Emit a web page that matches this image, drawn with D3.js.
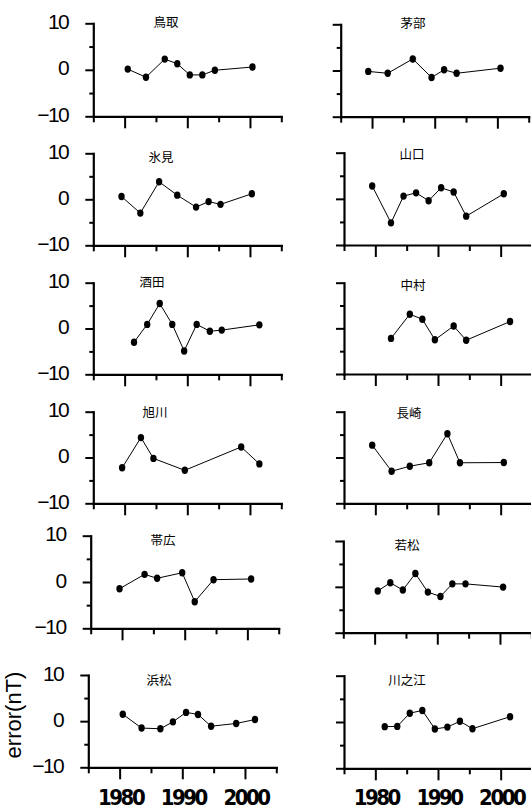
<!DOCTYPE html>
<html>
<head>
<meta charset="utf-8">
<script src="https://cdn.jsdelivr.net/npm/d3@7"></script>
<style>
    html, body { margin: 0; padding: 0; background: #fff; }
    svg { display: block; }
</style>
</head>
<body>
<svg id="chart" width="531" height="812"></svg>
<script>

// ##################################################
// #                                                #
// #  Data                                          #
// #                                                #
// ##################################################

const stations = ['鳥取', '茅部', '氷見', '山口', '酒田', '中村', '旭川', '長崎', '帯広', '若松', '浜松', '川之江'];

const tottoriYears = [1980.5, 1983.4, 1986.4, 1988.4, 1990.4, 1992.4, 1994.4, 2000.4];
const tottoriErr   = [0.15, -1.6, 2.3, 1.3, -1.1, -1.1, -0.1, 0.6];

const kayabeYears = [1979.4, 1982.5, 1986.5, 1989.5, 1991.5, 1993.5, 2000.5];
const kayabeErr   = [-0.2, -0.6, 2.5, -1.5, 0.15, -0.6, 0.5];

const himiYears = [1979.5, 1982.5, 1985.5, 1988.4, 1991.4, 1993.4, 1995.3, 2000.3];
const himiErr   = [0.6, -3.0, 3.8, 0.9, -1.7, -0.5, -1.1, 1.2];

const yamaguchiYears = [1979.5, 1982.5, 1984.5, 1986.5, 1988.5, 1990.5, 1992.5, 1994.5, 2000.5];
const yamaguchiErr   = [2.8, -5.2, 0.6, 1.3, -0.4, 2.4, 1.5, -3.75, 1.1];

const sakataYears = [1981.5, 1983.6, 1985.6, 1987.6, 1989.5, 1991.5, 1993.6, 1995.5, 2001.5];
const sakataErr   = [-3.0, 0.9, 5.45, 0.9, -4.9, 0.9, -0.6, -0.35, 0.8];

const nakamuraYears = [1982.5, 1985.5, 1987.5, 1989.5, 1992.5, 1994.5, 2001.5];
const nakamuraErr   = [-2.2, 3.1, 2.0, -2.5, 0.5, -2.6, 1.5];

const asahikawaYears = [1979.6, 1982.6, 1984.6, 1989.6, 1998.6, 2001.5];
const asahikawaErr   = [-2.25, 4.35, -0.2, -2.8, 2.3, -1.4];

const nagasakiYears = [1979.5, 1982.6, 1985.5, 1988.6, 1991.5, 1993.5, 2000.5];
const nagasakiErr   = [2.7, -3.0, -1.9, -1.15, 5.2, -1.15, -1.1];

const obihiroYears = [1979.6, 1983.6, 1985.6, 1989.6, 1991.6, 1994.6, 2000.6];
const obihiroErr   = [-1.45, 1.65, 0.8, 2.0, -4.25, 0.5, 0.65];

const wakamatsuYears = [1980.5, 1982.5, 1984.5, 1986.5, 1988.5, 1990.5, 1992.4, 1994.5, 2000.5];
const wakamatsuErr   = [-0.9, 0.9, -0.7, 2.9, -1.15, -2.1, 0.65, 0.65, -0.05];

const hamamatsuYears = [1980.5, 1983.5, 1986.5, 1988.5, 1990.6, 1992.5, 1994.6, 1998.6, 2001.6];
const hamamatsuErr   = [1.5, -1.5, -1.65, -0.15, 1.9, 1.45, -1.1, -0.5, 0.35];

const kawanoeYears = [1981.5, 1983.5, 1985.5, 1987.5, 1989.5, 1991.5, 1993.5, 1995.5, 2001.5];
const kawanoeErr   = [-1.0, -0.95, 1.9, 2.5, -1.5, -1.1, 0.15, -1.45, 1.15];

const yearsList = [tottoriYears, kayabeYears, himiYears, yamaguchiYears, sakataYears, nakamuraYears,
    asahikawaYears, nagasakiYears, obihiroYears, wakamatsuYears, hamamatsuYears, kawanoeYears];
const errList = [tottoriErr, kayabeErr, himiErr, yamaguchiErr, sakataErr, nakamuraErr,
    asahikawaErr, nagasakiErr, obihiroErr, wakamatsuErr, hamamatsuErr, kawanoeErr];

const yearDomain = [1975, 2005];
const errDomain = [-10, 10];
const xMajorTicks = [1980, 1990, 2000];
const xMinorTicks = [1975, 1985, 1995, 2005];
const yMajorTicks = [10, 0, -10];
const yMinorTicks = [5, -5];
const yTickLabels = ['10', '0', '\u221210'];
const xTickLabels = ['1980', '1990', '2000'];
const yTitle = 'error(nT)';

// ##################################################
// #                                                #
// #  Layout (pixel frame of each panel)            #
// #                                                #
// ##################################################

// x0: pixel of 1975, top: pixel of +10, bottom: pixel of -10, tx/ty: title
const frames = [
    {x0: 93.3, top: 23.3, bottom: 116.3, tx: 166, ty: 27},
    {x0: 340.7, top: 24.3, bottom: 116.7, tx: 413, ty: 28},
    {x0: 93.3, top: 153.3, bottom: 245.3, tx: 161, ty: 162},
    {x0: 344, top: 152.7, bottom: 245, tx: 412, ty: 159},
    {x0: 93.3, top: 282.7, bottom: 374.3, tx: 152, ty: 287},
    {x0: 344, top: 282.7, bottom: 374, tx: 413, ty: 290},
    {x0: 93.3, top: 411.7, bottom: 503.3, tx: 155, ty: 417},
    {x0: 344, top: 411.7, bottom: 503.3, tx: 409, ty: 418},
    {x0: 90.7, top: 535.7, bottom: 628.3, tx: 163, ty: 545},
    {x0: 343.3, top: 541, bottom: 632.7, tx: 407, ty: 550},
    {x0: 88.3, top: 675, bottom: 767.3, tx: 159, ty: 685},
    {x0: 344, top: 675.7, bottom: 768.3, tx: 407, ty: 685}
];
const panelWidth = 188;

// ##################################################
// #                                                #
// #  Panels                                        #
// #                                                #
// ##################################################

let svg = d3.select('#chart');

stations.forEach((name, i) => {
    let f = frames[i];
    let leftCol = i % 2 === 0;
    let bottomRow = i >= stations.length - 2;

    let x = d3.scaleLinear().domain(yearDomain).range([f.x0, f.x0 + panelWidth]);
    let y = d3.scaleLinear().domain(errDomain).range([f.bottom, f.top]);

    let g = svg.append('g').attr('class', 'panel');

    // axes
    drawAxis(g.append('g').attr('transform', `translate(0,${f.bottom})`),
        d3.axisBottom(x).tickValues(xMajorTicks).tickSize(12), true);
    drawAxis(g.append('g').attr('transform', `translate(0,${f.bottom})`),
        d3.axisBottom(x).tickValues(xMinorTicks).tickSize(6), false);
    drawAxis(g.append('g').attr('transform', `translate(${f.x0},0)`),
        d3.axisLeft(y).tickValues(yMajorTicks).tickSize(8), true);
    drawAxis(g.append('g').attr('transform', `translate(${f.x0},0)`),
        d3.axisLeft(y).tickValues(yMinorTicks).tickSize(4), false);

    // series
    let pts = yearsList[i].map((yr, k) => ({year: yr, err: errList[i][k]}));

    g.append('path')
        .datum(pts)
        .attr('fill', 'none')
        .attr('stroke', '#000')
        .attr('stroke-width', 1)
        .attr('d', d3.line().x(d => x(d.year)).y(d => y(d.err)));

    g.selectAll('.dot')
        .data(pts)
        .enter()
        .append('ellipse')
        .attr('class', 'dot')
        .attr('cx', d => x(d.year))
        .attr('cy', d => y(d.err))
        .attr('rx', 3.2)
        .attr('ry', 3.7)
        .attr('fill', '#000');

    // title
    g.append('text')
        .attr('x', f.tx)
        .attr('y', f.ty)
        .attr('text-anchor', 'middle')
        .attr('font-family', '"Noto Sans CJK JP", sans-serif')
        .attr('font-size', 12.5)
        .text(name);

    // y tick labels on left column
    if (leftCol) {
        g.selectAll('.ylab')
            .data(yMajorTicks)
            .enter()
            .append('text')
            .attr('class', 'ylab')
            .attr('x', f.x0 - 25)
            .attr('y', d => y(d) + 5.5)
            .attr('text-anchor', 'end')
            .attr('font-family', '"Liberation Sans", Arial, sans-serif')
            .attr('font-size', 21)
            .attr('letter-spacing', '-1.5px')
            .text((d, k) => yTickLabels[k]);
    }

    // year labels under bottom row
    if (bottomRow) {
        g.selectAll('.xlab')
            .data(xMajorTicks)
            .enter()
            .append('text')
            .attr('class', 'xlab')
            .attr('x', d => x(d) + 1)
            .attr('y', 805)
            .attr('text-anchor', 'middle')
            .attr('font-family', '"Liberation Sans Narrow", "DejaVu Sans Condensed", sans-serif')
            .attr('font-weight', 'bold')
            .attr('font-size', 22)
            .attr('letter-spacing', '-2.5px')
            .text((d, k) => xTickLabels[k]);

        if (leftCol) {
            svg.append('text')
                .attr('transform', `translate(20.5,715) rotate(-90)`)
                .attr('text-anchor', 'middle')
                .attr('font-family', '"Liberation Sans", Arial, sans-serif')
                .attr('font-size', 22)
                .text(yTitle);
        }
    }
});

function drawAxis(sel, axis, withDomain) {
    axis.tickSizeOuter(0).tickFormat('');
    sel.call(axis);
    sel.selectAll('line').attr('stroke', '#000').attr('stroke-width', 2);
    let domain = sel.select('.domain');
    if (withDomain) {
        domain.attr('stroke', '#000').attr('stroke-width', 2.2).attr('stroke-linecap', 'square');
    } else {
        domain.remove();
    }
}

</script>
</body>
</html>
